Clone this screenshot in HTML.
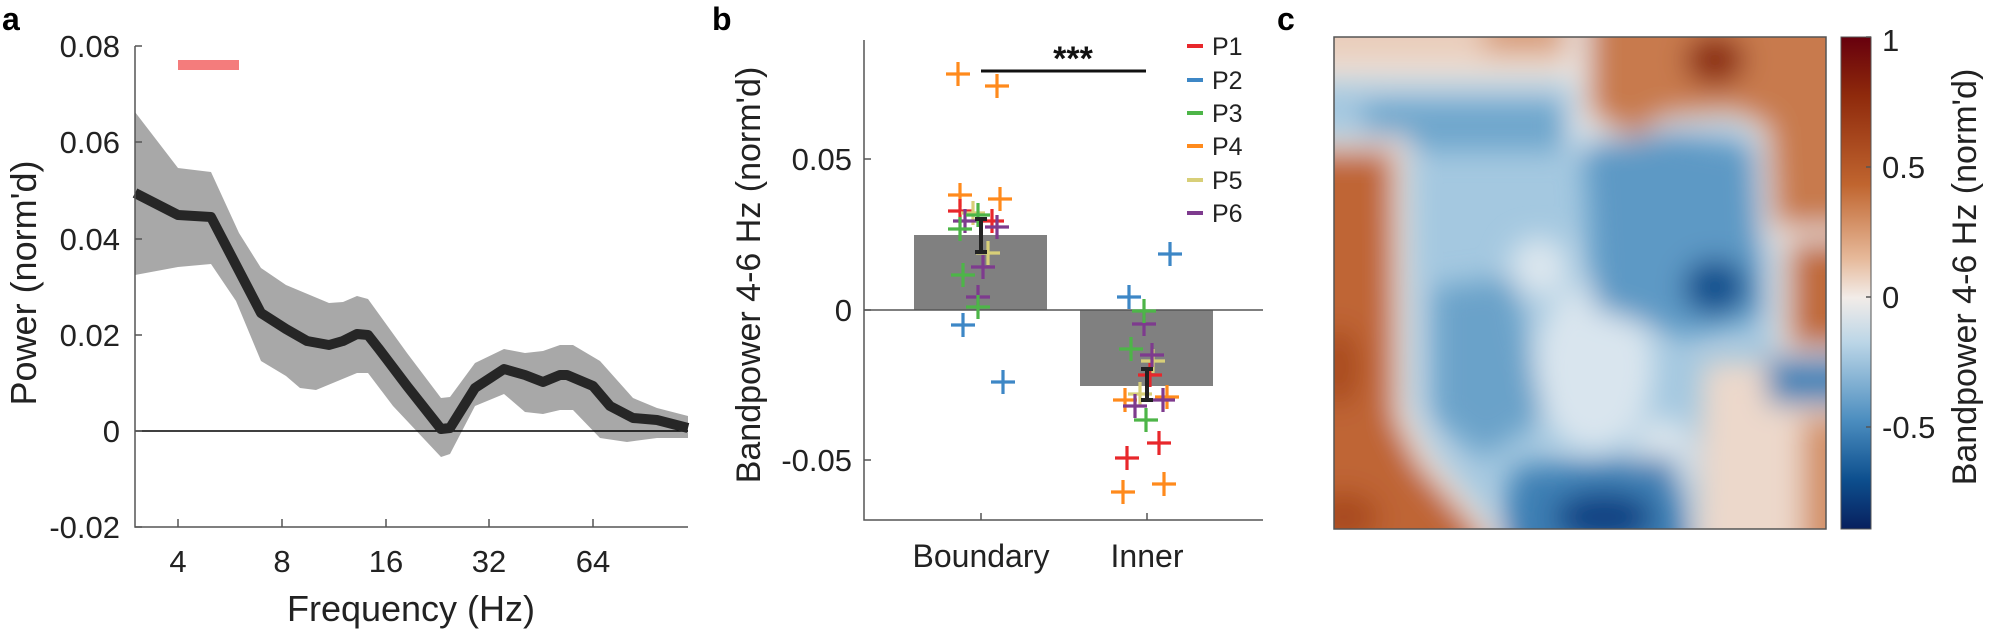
<!DOCTYPE html>
<html><head><meta charset="utf-8"><style>html,body{margin:0;padding:0;background:#fff}svg{display:block}text{font-family:"Liberation Sans",Arial,sans-serif}</style></head>
<body>
<svg width="2000" height="629" viewBox="0 0 2000 629" xmlns="http://www.w3.org/2000/svg">
<defs>
<filter id="bl" x="-20%" y="-20%" width="140%" height="140%"><feGaussianBlur stdDeviation="14"/></filter>
<clipPath id="hc"><rect x="0" y="0" width="492" height="492"/></clipPath>
<linearGradient id="cb" x1="0" y1="0" x2="0" y2="1">
<stop offset="0" stop-color="#67000d"/><stop offset="0.12" stop-color="#8f2a0c"/><stop offset="0.3" stop-color="#c0652f"/><stop offset="0.45" stop-color="#e6b99a"/><stop offset="0.53" stop-color="#f2ece8"/><stop offset="0.62" stop-color="#bcd6e7"/><stop offset="0.78" stop-color="#4b8dbf"/><stop offset="0.9" stop-color="#0d4f8e"/><stop offset="1" stop-color="#08205e"/>
</linearGradient>
</defs>

<!-- Panel a -->
<text x="2" y="30" font-size="32" font-weight="bold">a</text>
<path d="M135,112 L178,168 L211,172 L239,233 L261,268 L286,285 L329,303 L343,302 L357,296 L368,299 L407,353 L441,398 L450,397 L475,363 L504,349 L525,353 L543,351 L560,345 L573,345 L600,361 L633,398 L657,408 L688,416 L688,438 L657,438 L627,442 L600,438 L573,410 L560,410 L543,414 L525,412 L504,394 L475,406 L450,454 L441,457 L393,406 L368,373 L357,373 L316,390 L300,388 L286,376 L261,361 L236,301 L211,264 L178,267 L135,275 Z" fill="#a8a8a8"/>
<line x1="135" y1="431" x2="688" y2="431" stroke="#000" stroke-width="1.5"/>
<polyline points="135,193 178,215 211,217 261,313 286,329 307,341 329,345 343,341 357,334 368,335 379,349 407,386 441,429 450,428 475,388 504,369 525,375 543,382 560,375 567,375 593,386 610,406 633,418 657,420 688,428" fill="none" stroke="#262626" stroke-width="10" stroke-linejoin="round"/>
<rect x="178" y="60" width="61" height="10" fill="#f47c7c"/>
<g stroke="#555" stroke-width="1.5" fill="none">
<path d="M135,46 V527 H688"/>
<path d="M135,46 h7 M135,142 h7 M135,239 h7 M135,335 h7 M135,431 h7 M135,527 h7"/>
<path d="M178,527 v-8 M282,527 v-8 M386,527 v-8 M489,527 v-8 M593,527 v-8"/>
</g>
<g font-size="31" text-anchor="end" fill="#222">
<text x="120" y="57">0.08</text><text x="120" y="153">0.06</text><text x="120" y="250">0.04</text><text x="120" y="346">0.02</text><text x="120" y="442">0</text><text x="120" y="538">-0.02</text>
</g>
<g font-size="31" text-anchor="middle" fill="#222">
<text x="178" y="572">4</text><text x="282" y="572">8</text><text x="386" y="572">16</text><text x="489" y="572">32</text><text x="593" y="572">64</text>
</g>
<text x="411" y="621" font-size="36" text-anchor="middle" fill="#222">Frequency (Hz)</text>
<text transform="translate(36,283) rotate(-90)" font-size="36" text-anchor="middle" fill="#222">Power (norm'd)</text>

<!-- Panel b -->
<text x="712" y="30" font-size="32" font-weight="bold">b</text>
<rect x="914" y="235" width="133" height="75" fill="#808080"/>
<rect x="1080" y="310" width="133" height="76" fill="#808080"/>
<line x1="864" y1="310" x2="1263" y2="310" stroke="#555" stroke-width="1.5"/>
<g stroke-width="3.2" fill="none">
<g stroke="#ff8a1c"><path d="M946,74h24M958,62v24"/><path d="M985,86h24M997,74v24"/><path d="M948,195h24M960,183v24"/><path d="M988,199h24M1000,187v24"/><path d="M1113,400h24M1125,388v24"/><path d="M1155,397h24M1167,385v24"/><path d="M1152,484h24M1164,472v24"/><path d="M1111,492h24M1123,480v24"/></g>
<g stroke="#e8272b"><path d="M948,211h24M960,199v24"/><path d="M980,221h24M992,209v24"/><path d="M1138,375h24M1150,363v24"/><path d="M1147,443h24M1159,431v24"/><path d="M1115,458h24M1127,446v24"/></g>
<g stroke="#d8cf78"><path d="M961,213h24M973,201v24"/><path d="M976,253h24M988,241v24"/><path d="M1141,361h24M1153,349v24"/><path d="M1128,394h24M1140,382v24"/></g>
<g stroke="#7e3b8e"><path d="M953,221h24M965,209v24"/><path d="M985,227h24M997,215v24"/><path d="M971,267h24M983,255v24"/><path d="M966,297h24M978,285v24"/><path d="M1132,324h24M1144,312v24"/><path d="M1140,355h24M1152,343v24"/><path d="M1151,400h24M1163,388v24"/><path d="M1123,406h24M1135,394v24"/></g>
<g stroke="#4db548"><path d="M966,215h24M978,203v24"/><path d="M948,229h24M960,217v24"/><path d="M951,275h24M963,263v24"/><path d="M966,307h24M978,295v24"/><path d="M1132,311h24M1144,299v24"/><path d="M1119,349h24M1131,337v24"/><path d="M1134,420h24M1146,408v24"/></g>
<g stroke="#3d87c6"><path d="M951,325h24M963,313v24"/><path d="M991,382h24M1003,370v24"/><path d="M1158,254h24M1170,242v24"/><path d="M1117,297h24M1129,285v24"/></g>
</g>
<g stroke="#222" stroke-width="4" fill="none">
<path d="M981,219V252M975,219h12M975,252h12"/>
<path d="M1147,369V400M1141,369h12M1141,400h12"/>
</g>
<line x1="981" y1="71" x2="1146" y2="71" stroke="#111" stroke-width="3"/>
<text x="1073" y="70" font-size="34" font-weight="bold" text-anchor="middle" fill="#111">***</text>
<g stroke="#555" stroke-width="1.5" fill="none">
<path d="M864,40 V520 H1263"/>
<path d="M864,159 h7 M864,310 h7 M864,460 h7"/>
<path d="M981,520 v-7 M1147,520 v-7"/>
</g>
<g font-size="31" text-anchor="end" fill="#222">
<text x="852" y="170">0.05</text><text x="852" y="321">0</text><text x="852" y="471">-0.05</text>
</g>
<g font-size="32" text-anchor="middle" fill="#222">
<text x="981" y="567">Boundary</text><text x="1147" y="567">Inner</text>
</g>
<text transform="translate(760,275) rotate(-90)" font-size="34" text-anchor="middle" fill="#222">Bandpower 4-6 Hz (norm'd)</text>
<g stroke-width="4">
<line x1="1187" y1="46" x2="1203" y2="46" stroke="#e8272b"/>
<line x1="1187" y1="80" x2="1203" y2="80" stroke="#3d87c6"/>
<line x1="1187" y1="113" x2="1203" y2="113" stroke="#4db548"/>
<line x1="1187" y1="146" x2="1203" y2="146" stroke="#ff8a1c"/>
<line x1="1187" y1="180" x2="1203" y2="180" stroke="#d8cf78"/>
<line x1="1187" y1="213" x2="1203" y2="213" stroke="#7e3b8e"/>
</g>
<g font-size="25" fill="#222">
<text x="1212" y="55">P1</text><text x="1212" y="89">P2</text><text x="1212" y="122">P3</text><text x="1212" y="155">P4</text><text x="1212" y="189">P5</text><text x="1212" y="222">P6</text>
</g>

<!-- Panel c -->
<text x="1277" y="30" font-size="32" font-weight="bold">c</text>
<g transform="translate(1334,37)">
<g clip-path="url(#hc)">
<rect x="-40" y="-40" width="572" height="572" fill="#a4c8e0"/>
<g filter="url(#bl)">
<ellipse cx="260" cy="330" rx="60" ry="85" fill="#d9e5ee"/>
<ellipse cx="205" cy="230" rx="30" ry="30" fill="#dbe6ee"/>
<ellipse cx="330" cy="420" rx="30" ry="40" fill="#dbe5ec"/>
<rect x="-40" y="-40" width="300" height="85" fill="#f0e4dc"/>
<rect x="-40" y="-40" width="300" height="65" fill="#e9cdbb"/>
<rect x="150" y="-40" width="80" height="58" fill="#d9a07f"/>
<rect x="238" y="-40" width="18" height="150" fill="#e3e9ee"/>
<path d="M245,-40 H540 V205 H430 L424,100 L400,85 L330,90 L300,110 L245,88 Z" fill="#eee6e1"/>
<path d="M255,-40 H540 V190 H440 L434,90 L400,75 L330,80 L300,100 L255,78 Z" fill="#c87a4e"/>
<ellipse cx="381" cy="23" rx="30" ry="25" fill="#8a2a10"/>
<rect x="30" y="65" width="200" height="48" fill="#6ea6cc"/>
<path d="M250,110 L330,95 L420,110 L430,280 L350,300 L260,270 Z" fill="#5d99c5"/>
<ellipse cx="381" cy="250" rx="32" ry="28" fill="#0f4f8d"/>
<path d="M100,250 L180,240 L210,380 L150,420 L100,380 Z" fill="#6aa2c9"/>
<path d="M180,430 L340,420 L360,540 L160,540 Z" fill="#3c7fb4"/>
<ellipse cx="270" cy="480" rx="50" ry="25" fill="#0b3f82"/>
<path d="M370,325 H540 V540 H360 Z" fill="#ecd8cb"/>
<rect x="434" y="312" width="110" height="55" fill="#3d82b7"/>
<rect x="440" y="190" width="100" height="130" fill="#ece6e2"/>
<rect x="455" y="205" width="90" height="105" fill="#c06a3a"/>
<rect x="468" y="380" width="70" height="160" fill="#d39168"/>
<path d="M-40,100 H75 L77,370 L100,416 L170,500 L170,540 H-40 Z" fill="#efe6e0"/>
<path d="M-40,113 H60 L62,380 L85,426 L150,500 L150,540 H-40 Z" fill="#bf6535"/>
<ellipse cx="5" cy="330" rx="20" ry="40" fill="#a84a1a"/>
<ellipse cx="10" cy="480" rx="35" ry="25" fill="#a84a1a"/>
</g>
</g>
<rect x="0" y="0" width="492" height="492" fill="none" stroke="#555" stroke-width="1.5"/>
</g>
<rect x="1841" y="37" width="30" height="492" fill="url(#cb)" stroke="#555" stroke-width="1"/>
<g stroke="#555" stroke-width="1.5"><path d="M1871,37h-5M1871,167h-5M1871,297h-5M1871,427h-5"/></g>
<g font-size="31" fill="#222">
<text x="1882" y="51">1</text><text x="1882" y="178">0.5</text><text x="1882" y="308">0</text><text x="1882" y="438">-0.5</text>
</g>
<text transform="translate(1976,277) rotate(-90)" font-size="34" text-anchor="middle" fill="#222">Bandpower 4-6 Hz (norm'd)</text>
</svg>
</body></html>
